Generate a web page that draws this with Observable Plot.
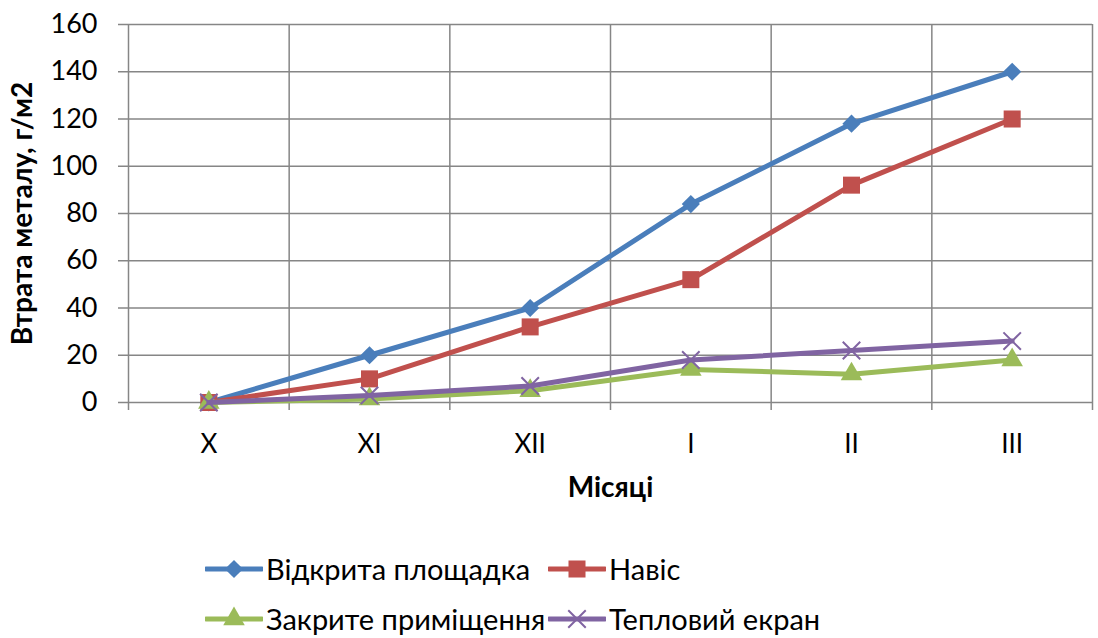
<!DOCTYPE html>
<html>
<head>
<meta charset="utf-8">
<script src="https://cdn.jsdelivr.net/npm/d3@7"></script>
<script src="https://cdn.jsdelivr.net/npm/@observablehq/plot@0.6"></script>
<style>
  html, body { margin: 0; padding: 0; background: #fff; overflow: hidden; }
  #wrap { position: relative; width: 1098px; height: 638px; font-family: Lato, "Open Sans", sans-serif; }
  .leg { position: absolute; display: flex; align-items: center; font-size: 29px; line-height: 32px; color: #000; white-space: nowrap; }
  .leg svg { display: block; margin-right: 3px; }
</style>
</head>
<body>
<div id="wrap"></div>
<script>
const months = ["X", "XI", "XII", "I", "II", "III"];
const seriesNames = ["Відкрита площадка", "Навіс", "Закрите приміщення", "Тепловий екран"];
const openSite = [0, 20, 40, 84, 118, 140];
const shed = [0, 10, 32, 52, 92, 120];
const closedRoom = [0, 1.5, 5, 14, 12, 18];
const heatScreen = [0, 3, 7, 18, 22, 26];
const yTicks = [0, 20, 40, 60, 80, 100, 120, 140, 160];
const yTitle = "Втрата металу, г/м2";
const xTitle = "Місяці";

const colors = ["#4A7EBB", "#C0504D", "#9BBB59", "#8064A2"];
const symbols = ["diamond2", "square", "triangle", "times"];
const radii = [8.2, 9.6, 8, 8];
const values = [openSite, shed, closedRoom, heatScreen];

const rows = values.map((vals, s) => vals.map((v, i) => ({series: seriesNames[s], i, month: months[i], v})));
const boundaries = d3.range(months.length + 1).map(k => k - 0.5);
const idx = d3.range(months.length);

const marks = [
  Plot.ruleY(yTicks, {stroke: "#868686", strokeWidth: 1.5, insetLeft: -10}),
  Plot.ruleX(boundaries, {stroke: "#868686", strokeWidth: 1.5, insetBottom: -8}),
  Plot.axisY({ticks: yTicks, tickSize: 0, tickPadding: 31, fontSize: 27, tickFormat: d => d, label: null}),
  Plot.axisX({ticks: idx, tickSize: 0, tickPadding: 32, fontSize: 26, tickFormat: i => months[i], label: null}),
  Plot.text([yTitle], {frameAnchor: "left", textAnchor: "middle", rotate: -90, dx: -105, fontWeight: "bold", fontSize: 28}),
  Plot.text([xTitle], {frameAnchor: "bottom", dy: 94, fontWeight: "bold", fontSize: 28})
];
rows.forEach((data, s) => {
  marks.push(Plot.line(data, {x: "i", y: "v", stroke: colors[s], strokeWidth: 5}));
  if (symbols[s] === "times") {
    marks.push(Plot.dot(data, {x: "i", y: "v", symbol: "times", r: radii[s], stroke: colors[s], strokeWidth: 2}));
  } else {
    marks.push(Plot.dot(data, {x: "i", y: "v", symbol: symbols[s], r: radii[s], fill: colors[s], stroke: "none"}));
  }
});

const chart = Plot.plot({
  width: 1098,
  height: 520,
  marginLeft: 128,
  marginRight: 6,
  marginTop: 24,
  marginBottom: 118,
  style: {fontFamily: "Lato, 'Open Sans', sans-serif", color: "#000", background: "#fff"},
  x: {type: "linear", domain: [-0.5, months.length - 0.5], axis: null},
  y: {domain: [0, 160], axis: null},
  marks
});
const wrap = document.getElementById("wrap");
wrap.appendChild(chart);

// legend
const legPos = [[205, 569], [548, 569], [205, 619], [548, 619]];
seriesNames.forEach((name, s) => {
  const div = document.createElement("div");
  div.className = "leg";
  div.style.left = legPos[s][0] + "px";
  div.style.top = (legPos[s][1] - 16) + "px";
  div.style.height = "32px";
  const sw = d3.create("svg").attr("width", 58).attr("height", 30);
  sw.append("line").attr("x1", 1).attr("x2", 57).attr("y1", 15).attr("y2", 15)
    .attr("stroke", colors[s]).attr("stroke-width", 5).attr("stroke-linecap", "round");
  const symMap = {diamond2: d3.symbolDiamond2, square: d3.symbolSquare, triangle: d3.symbolTriangle, times: d3.symbolTimes};
  const size = Math.PI * radii[s] * radii[s];
  const p = sw.append("path").attr("d", d3.symbol(symMap[symbols[s]], size)()).attr("transform", "translate(29,15)");
  if (symbols[s] === "times") p.attr("fill", "none").attr("stroke", colors[s]).attr("stroke-width", 2);
  else p.attr("fill", colors[s]);
  div.appendChild(sw.node());
  const t = document.createElement("span");
  t.textContent = name;
  div.appendChild(t);
  wrap.appendChild(div);
});
</script>
</body>
</html>
